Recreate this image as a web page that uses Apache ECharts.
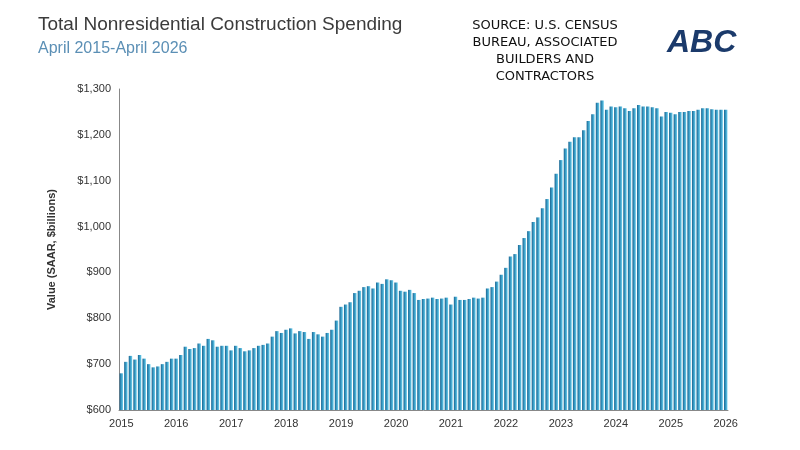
<!DOCTYPE html>
<html><head><meta charset="utf-8">
<script src="https://cdn.jsdelivr.net/npm/echarts@6/dist/echarts.min.js"></script>
<style>body{margin:0}#c{width:800px;height:450px}</style></head>
<body><div id="c"></div>
<script>
const tickLabels = ['2015','2016','2017','2018','2019','2020','2021','2022','2023','2024','2025','2026'];
const values = [
680,705,718,710,720,712,700,693,695,
700,705,712,712,720,738,733,735,745,740,755,752,
738,740,740,730,740,735,728,730,735,740,742,745,
760,772,768,775,778,767,772,770,755,770,765,760,
768,775,795,825,830,835,855,860,868,870,865,878,
875,885,883,878,860,858,862,855,840,842,843,845,
842,843,845,830,847,840,840,842,845,843,845,865,
868,880,895,910,935,940,960,975,990,1010,1020,1040,
1060,1085,1115,1145,1170,1185,1195,1195,1210,1230,1245,1270,
1275,1255,1262,1260,1262,1258,1252,1258,1265,1262,1262,1260,
1258,1240,1250,1248,1245,1250,1250,1252,1252,1255,1258,1258,
1256,1255,1255,1255];
const months = values.map((v,i)=>String(i));
const chart = echarts.init(document.getElementById('c'));
chart.setOption({
  animation:false,
  title:[{text:'Total Nonresidential Construction Spending',left:33,top:10,textStyle:{fontFamily:'Liberation Sans',fontSize:19,fontWeight:'normal',color:'#3b3b3b'}},
         {text:'April 2015-April 2026',left:33,top:36,textStyle:{fontFamily:'Liberation Sans',fontSize:16,fontWeight:'normal',color:'#5b8fb5'}},
         {text:'SOURCE: U.S. CENSUS\nBUREAU, ASSOCIATED\nBUILDERS AND\nCONTRACTORS',left:540,top:12,textAlign:'center',textStyle:{fontFamily:'DejaVu Sans',fontSize:13,fontWeight:'normal',color:'#111',lineHeight:17}},
         {text:'ABC',left:662,top:22,textStyle:{fontFamily:'Liberation Sans',fontSize:32,fontWeight:'bold',fontStyle:'italic',color:'#1b3a6b'}}],
  grid:{left:119,right:72,top:89,bottom:40},
  xAxis:{type:'category',data:months,
    axisLine:{lineStyle:{color:'#888'}},axisTick:{show:false},
    axisLabel:{interval:11,color:'#333',fontSize:11,fontFamily:'Liberation Sans',formatter:(v,i)=>tickLabels[Math.round(i/12)]}},
  yAxis:{type:'value',min:600,max:1300,interval:100,
    name:'Value (SAAR, $billions)',nameLocation:'middle',nameGap:62,
    nameTextStyle:{fontSize:11,fontWeight:'bold',color:'#333',fontFamily:'Liberation Sans'},
    axisLine:{show:true,lineStyle:{color:'#888'}},splitLine:{show:false},
    axisLabel:{color:'#333',fontSize:11,fontFamily:'Liberation Sans',formatter:v=>'$'+(v>=1000?Math.floor(v/1000)+','+String(v%1000).padStart(3,'0'):v)}},
  series:[{type:'bar',data:values,barCategoryGap:'25%',
    itemStyle:{color:new echarts.graphic.LinearGradient(0,0,1,0,[{offset:0,color:'#1c6590'},{offset:0.4,color:'#2f90bb'},{offset:1,color:'#6fd0ee'}])}}]
});
</script></body></html>
